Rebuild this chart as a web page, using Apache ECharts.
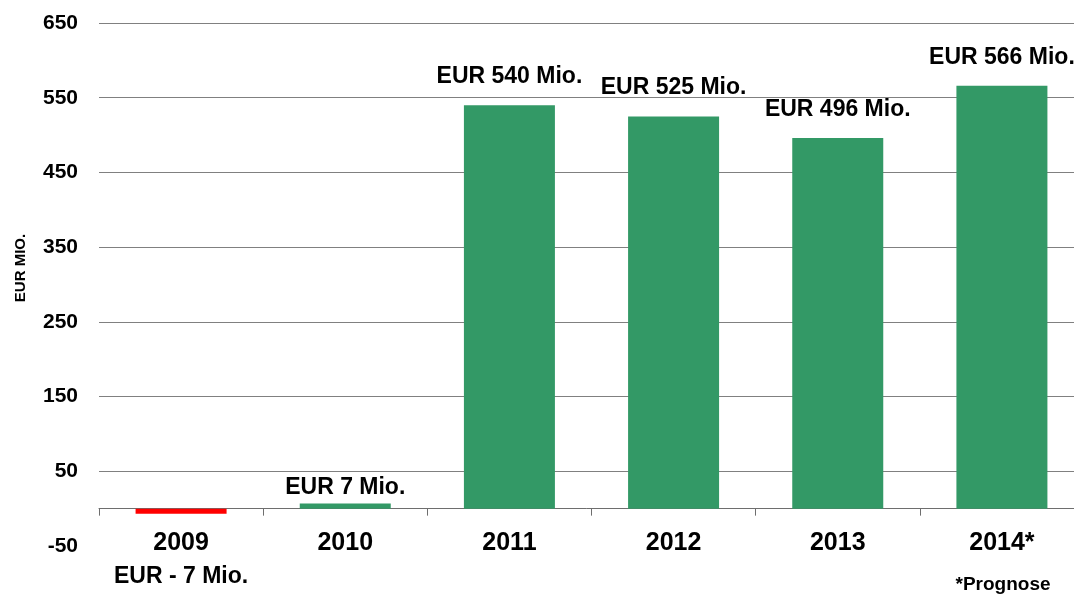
<!DOCTYPE html>
<html>
<head>
<meta charset="utf-8">
<script src="https://cdn.jsdelivr.net/npm/echarts@6/dist/echarts.min.js"></script>
<style>
  html, body { margin: 0; padding: 0; background: #fff; }
  #chart { width: 1074px; height: 594px; }
</style>
</head>
<body>
<div id="chart"></div>
<script>
  // Werte aus der Grafik (EUR Mio.)
  const years = ['2009', '2010', '2011', '2012', '2013', '2014*'];
  const values = [-7, 7, 540, 525, 496, 566];
  const valueLabels = ['EUR - 7 Mio.', 'EUR 7 Mio.', 'EUR 540 Mio.', 'EUR 525 Mio.', 'EUR 496 Mio.', 'EUR 566 Mio.'];
  const yTicks = [-50, 50, 150, 250, 350, 450, 550, 650];

  const font = '"Liberation Sans", Arial, sans-serif';
  const green = '#339966';
  const red = '#ff0000';

  // Tick alle 50, Beschriftung und Gitterlinie nur bei -50, 50, 150 ...
  const gridColors = [];
  for (let v = -50; v <= 650; v += 50) {
    gridColors.push(yTicks.indexOf(v) > 0 ? '#808080' : 'rgba(0,0,0,0)');
  }

  const seriesData = values.map((v, i) => {
    return {
      value: v,
      itemStyle: { color: v < 0 ? red : green },
      label: {
        position: v < 0 ? 'bottom' : 'top',
        distance: v < 0 ? 51 : (v < 50 ? 4 : 17),
        formatter: valueLabels[i]
      }
    };
  });

  const chart = echarts.init(document.getElementById('chart'));
  const option = {
    backgroundColor: '#ffffff',
    animation: false,
    grid: { left: 99, right: -10, top: 23, bottom: 48, outerBoundsMode: 'none', containLabel: false },
    xAxis: {
      type: 'category',
      data: years,
      axisLine: { lineStyle: { color: '#6e6e6e', width: 1 } },
      axisTick: { show: true, length: 7, lineStyle: { color: '#6e6e6e' } },
      axisLabel: {
        margin: -15,
        color: '#000',
        fontFamily: font,
        fontWeight: 'bold',
        fontSize: 25
      }
    },
    yAxis: {
      type: 'value',
      min: -50,
      max: 650,
      interval: 50,
      axisLine: { show: false },
      axisTick: { show: false },
      axisLabel: {
        margin: 21,
        color: '#000',
        fontFamily: font,
        fontWeight: 'bold',
        fontSize: 21,
        formatter: function (v) {
          return yTicks.indexOf(v) >= 0 ? String(v) : '';
        }
      },
      splitLine: { show: true, lineStyle: { color: gridColors, width: 1 } }
    },
    series: [{
      type: 'bar',
      barWidth: 91,
      data: seriesData,
      label: {
        show: true,
        color: '#000',
        fontFamily: font,
        fontWeight: 'bold',
        fontSize: 23
      }
    }],
    graphic: [
      {
        type: 'text',
        x: 21,
        y: 268,
        rotation: Math.PI / 2,
        style: {
          text: 'EUR MIO.',
          fill: '#000',
          font: 'bold 15px ' + font,
          align: 'center',
          verticalAlign: 'middle'
        }
      },
      {
        type: 'text',
        x: 1003,
        y: 585,
        style: {
          text: '*Prognose',
          fill: '#000',
          font: 'bold 19px ' + font,
          align: 'center',
          verticalAlign: 'middle'
        }
      }
    ]
  };
  chart.setOption(option);
</script>
</body>
</html>
